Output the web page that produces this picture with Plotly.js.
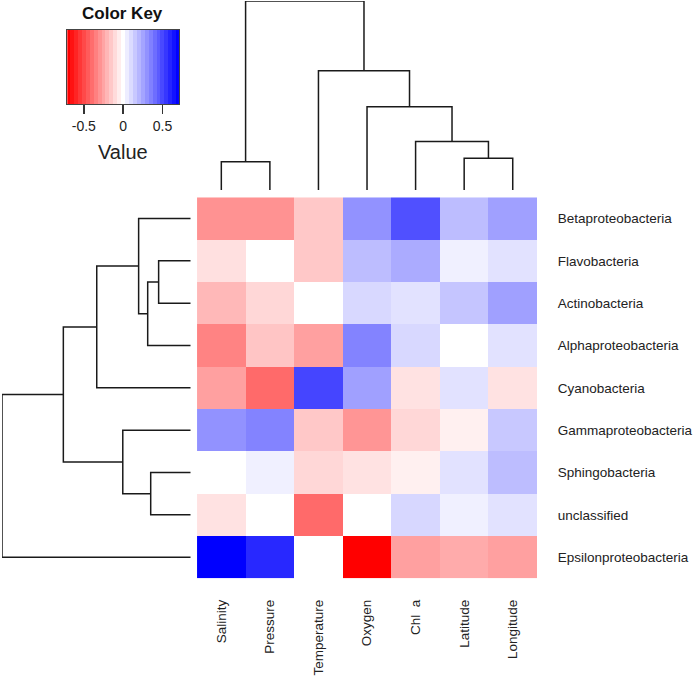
<!DOCTYPE html>
<html>
<head>
<meta charset="utf-8">
<script src="https://cdn.plot.ly/plotly-3.0.1.min.js"></script>
<style>html,body{margin:0;padding:0;background:#fff;}#chart{width:694px;height:679px;}</style>
</head>
<body>
<div id="chart"></div>
<script>
// ---- data ----
const columns = ["Salinity", "Pressure", "Temperature", "Oxygen", "Chl  a", "Latitude", "Longitude"];
const rows = ["Betaproteobacteria", "Flavobacteria", "Actinobacteria", "Alphaproteobacteria",
  "Cyanobacteria", "Gammaproteobacteria", "Sphingobacteria", "unclassified", "Epsilonproteobacteria"];

const betaVals    = [-0.30, -0.30, -0.15,  0.30,  0.48,  0.18,  0.26];
const flavoVals   = [-0.085, 0.00, -0.15,  0.18,  0.23,  0.04,  0.08];
const actinoVals  = [-0.195, -0.11, 0.00,  0.107, 0.08,  0.16,  0.26];
const alphaVals   = [-0.34, -0.16, -0.26,  0.34,  0.107, 0.00,  0.08];
const cyanoVals   = [-0.26, -0.41,  0.51,  0.26, -0.08,  0.08, -0.08];
const gammaVals   = [ 0.30,  0.34, -0.15, -0.29, -0.11, -0.04,  0.15];
const sphingoVals = [ 0.00,  0.04, -0.11, -0.08, -0.04,  0.08,  0.18];
const unclVals    = [-0.08,  0.00, -0.41,  0.00,  0.11,  0.04,  0.08];
const epsilonVals = [ 0.70,  0.59,  0.00, -0.70, -0.26, -0.23, -0.26];

// column dendrogram (pairs joined, "#k" = k-th merge) and merge heights
const colMerge = [["Salinity", "Pressure"], ["Latitude", "Longitude"], ["Chl  a", "#2"],
  ["Oxygen", "#3"], ["Temperature", "#4"], ["#1", "#5"]];
const colHeight = [0.150, 0.168, 0.256, 0.441, 0.631, 1.0];

// row dendrogram
const rowMerge = [["Flavobacteria", "Actinobacteria"], ["Alphaproteobacteria", "#1"],
  ["Betaproteobacteria", "#2"], ["Cyanobacteria", "#3"], ["Sphingobacteria", "unclassified"],
  ["Gammaproteobacteria", "#5"], ["#4", "#6"], ["#7", "Epsilonproteobacteria"]];
const rowHeight = [0.170, 0.228, 0.276, 0.498, 0.212, 0.360, 0.675, 1.0];

// color key
const keyValues = [-0.7, -0.65, -0.6, -0.55, -0.5, -0.45, -0.4, -0.35, -0.3, -0.25, -0.2, -0.15, -0.1, -0.05, 0,
  0.05, 0.1, 0.15, 0.2, 0.25, 0.3, 0.35, 0.4, 0.45, 0.5, 0.55, 0.6, 0.65, 0.7];
const keyTicks = [-0.5, 0, 0.5];
const keyTickText = ["-0.5", "0", "0.5"];

// ---- build ----
const zMatrix = [betaVals, flavoVals, actinoVals, alphaVals, cyanoVals, gammaVals, sphingoVals, unclVals, epsilonVals];
const cscale = [[0, "#FF0000"], [0.5, "#FFFFFF"], [1, "#0000FF"]];
const FONT = "Liberation Sans, Arial, sans-serif";

function dendro(leaves, merges, heights) {
  const pos = {};
  leaves.forEach((l, i) => pos[l] = {p: i, h: 0});
  const P = [], H = [];
  merges.forEach((m, k) => {
    const a = pos[m[0]], b = pos[m[1]], h = heights[k];
    P.push(a.p, a.p, b.p, b.p, null);
    H.push(a.h, h, h, b.h, null);
    pos["#" + (k + 1)] = {p: (a.p + b.p) / 2, h: h};
  });
  return {P, H};
}
const cd = dendro(columns, colMerge, colHeight);
const rd = dendro(rows, rowMerge, rowHeight);

const lineStyle = {color: "#1a1a1a", width: 1.5};

const traces = [
  {type: "heatmap", x: columns, y: rows, z: zMatrix, colorscale: cscale, zmin: -0.7, zmax: 0.7,
   showscale: false, xaxis: "x", yaxis: "y", hoverinfo: "x+y+z"},
  {type: "heatmap", x: keyValues, y: [0], z: [keyValues], colorscale: cscale, zmin: -0.7, zmax: 0.7,
   showscale: false, xaxis: "x2", yaxis: "y2", hoverinfo: "skip"},
  {type: "scatter", mode: "lines", x: cd.P, y: cd.H, line: lineStyle, xaxis: "x3", yaxis: "y3",
   cliponaxis: false, hoverinfo: "skip", connectgaps: false},
  {type: "scatter", mode: "lines", x: rd.H, y: rd.P, line: lineStyle, xaxis: "x4", yaxis: "y4",
   cliponaxis: false, hoverinfo: "skip", connectgaps: false}
];

const hidden = {visible: false, showgrid: false, zeroline: false, fixedrange: true};

const layout = {
  width: 694, height: 679,
  margin: {l: 0, r: 0, t: 0, b: 0},
  paper_bgcolor: "#fff", plot_bgcolor: "rgba(0,0,0,0)",
  showlegend: false,
  font: {family: FONT, color: "#222"},
  xaxis: {domain: [0.2839, 0.7738], anchor: "y", tickangle: -90, ticks: "outside", ticklen: 15,
          tickcolor: "rgba(0,0,0,0)", showgrid: false, zeroline: false, showline: false,
          tickfont: {family: FONT, size: 13.5, color: "#222"}},
  yaxis: {domain: [0.1483, 0.7094], anchor: "x", side: "right", autorange: "reversed",
          ticks: "outside", ticklen: 17, tickcolor: "rgba(0,0,0,0)", showgrid: false,
          zeroline: false, showline: false, tickfont: {family: FONT, size: 13.5, color: "#222"}},
  xaxis2: {domain: [0.097, 0.2579], anchor: "y2", range: [-0.71, 0.71], tickvals: keyTicks,
           ticktext: keyTickText, ticks: "outside", ticklen: 9, tickwidth: 1.5, tickcolor: "#333",
           showline: true, mirror: true, linecolor: "#444", linewidth: 1, showgrid: false,
           zeroline: false, tickfont: {family: FONT, size: 14, color: "#222"}, fixedrange: true},
  yaxis2: {domain: [0.8464, 0.9558], anchor: "x2", range: [-0.5, 0.5], showticklabels: false,
           ticks: "", showline: true, mirror: true, linecolor: "#444", linewidth: 1,
           showgrid: false, zeroline: false, fixedrange: true},
  xaxis3: Object.assign({domain: [0.2839, 0.7738], anchor: "y3", range: [-0.5, 6.5]}, hidden),
  yaxis3: Object.assign({domain: [0.7202, 0.9985], anchor: "x3", range: [0, 1.0]}, hidden),
  xaxis4: Object.assign({domain: [0.0029, 0.2748], anchor: "y4", range: [1.0, 0]}, hidden),
  yaxis4: Object.assign({domain: [0.1483, 0.7094], anchor: "x4", range: [8.5, -0.5]}, hidden),
  annotations: [
    {text: "<b>Color Key</b>", xref: "paper", yref: "paper", x: 0.177, y: 0.980,
     xanchor: "center", yanchor: "middle", showarrow: false,
     font: {family: FONT, size: 17, color: "#111"}},
    {text: "Value", xref: "paper", yref: "paper", x: 0.177, y: 0.7755,
     xanchor: "center", yanchor: "middle", showarrow: false,
     font: {family: FONT, size: 20, color: "#222"}}
  ]
};

Plotly.newPlot("chart", traces, layout, {displayModeBar: false, staticPlot: true});
</script>
</body>
</html>
